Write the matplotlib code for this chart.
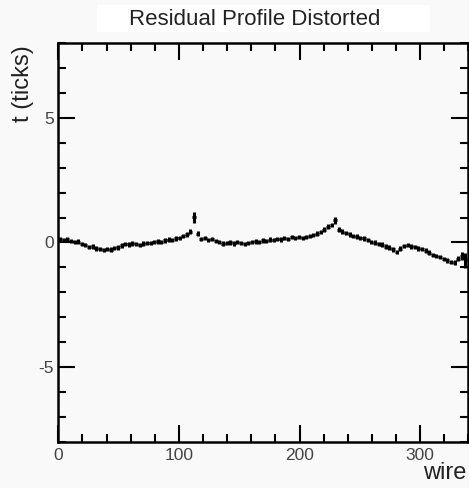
import numpy as np
import matplotlib.pyplot as plt
from matplotlib.patches import Rectangle
from matplotlib.ticker import MultipleLocator

plt.rcParams['font.family'] = ['Liberation Sans', 'DejaVu Sans']
plt.rcParams['axes.unicode_minus'] = False

# profile values, one per 3-wire bin (wires 0..339)
bin_width = 3
t_mean = [0.12, 0.10, 0.13, 0.06, 0.02, 0.03, -0.06, -0.10, -0.18, -0.16,
          -0.24, -0.27, -0.31, -0.26, -0.29, -0.22, -0.20, -0.12, -0.06, -0.08,
          -0.04, -0.07, -0.10, -0.05, -0.02, -0.03, 0.01, 0.04, 0.02, 0.08,
          0.11, 0.09, 0.16, 0.19, 0.27, 0.33, 0.44, 1.02, 0.36, 0.14,
          0.17, 0.10, 0.13, 0.06, 0.01, -0.05, -0.02, 0.00, -0.04, 0.02,
          -0.03, -0.06, -0.02, 0.01, 0.04, 0.02, 0.08, 0.06, 0.11, 0.09,
          0.15, 0.12, 0.17, 0.14, 0.21, 0.18, 0.23, 0.17, 0.22, 0.25,
          0.30, 0.36, 0.43, 0.52, 0.64, 0.71, 0.90, 0.52, 0.44, 0.38,
          0.33, 0.27, 0.24, 0.19, 0.16, 0.10, 0.02, -0.01, -0.06, -0.09,
          -0.17, -0.21, -0.28, -0.38, -0.25, -0.14, -0.11, -0.16, -0.19, -0.24,
          -0.27, -0.33, -0.41, -0.50, -0.54, -0.58, -0.66, -0.72, -0.78, -0.81,
          -0.65, -0.55, -0.72]
t_err = [0.09] * len(t_mean)
t_err[37] = 0.22    # spike near wire 112
t_err[76] = 0.14
t_err[-1] = 0.3
t_err[-2] = 0.16

wire = np.arange(len(t_mean)) * bin_width + bin_width / 2

bg = '#f9f9f9'
fig = plt.figure(figsize=(4.69, 4.88), dpi=100, facecolor=bg)
ax = fig.add_axes([0.1243, 0.0943, 0.8745, 0.8176], facecolor=bg)

ax.errorbar(wire, t_mean, xerr=bin_width / 2, yerr=t_err, fmt='none',
            ecolor='black', elinewidth=2.2, capsize=0)

ax.set_xlim(0, 340)
ax.set_ylim(-8, 8)
ax.xaxis.set_major_locator(MultipleLocator(100))
ax.xaxis.set_minor_locator(MultipleLocator(20))
ax.yaxis.set_major_locator(MultipleLocator(5))
ax.yaxis.set_minor_locator(MultipleLocator(1))
ax.tick_params(which='both', direction='in', top=True, right=True,
               width=1.5, labelsize=12.5, labelcolor='#444444')
ax.tick_params(which='major', length=12)
ax.tick_params(which='minor', length=6)
ax.tick_params(axis='x', pad=4)
ax.tick_params(axis='y', pad=3)
ax.set_xticks([0, 100, 200, 300])
ax.set_xticklabels(['0', '100', '200', '300'])
for s in ax.spines.values():
    s.set_linewidth(1.8)

# title box like ROOT's pave
fig.patches.append(Rectangle((0.207, 0.934), 0.710, 0.056, transform=fig.transFigure,
                             facecolor='white', edgecolor='none'))
fig.text(0.544, 0.960, 'Residual Profile Distorted', ha='center', va='center',
         fontsize=16, color='#222222')
fig.text(0.049, 0.908, 't (ticks)', rotation=90, ha='center', va='top',
         fontsize=17, color='#222222')
fig.text(0.995, 0.008, 'wire', ha='right', va='bottom', fontsize=17,
         color='#222222')

fig.savefig('out.png', dpi=100, facecolor=bg)
